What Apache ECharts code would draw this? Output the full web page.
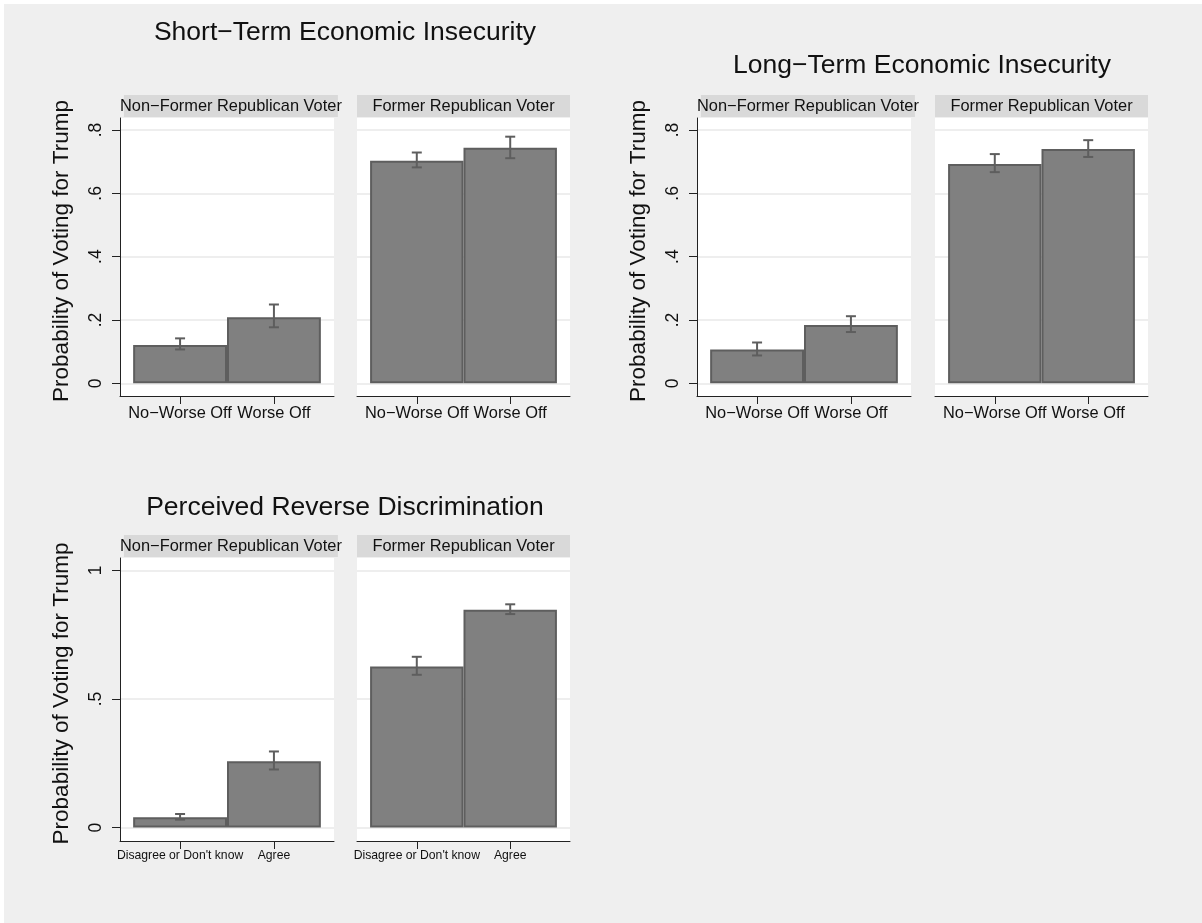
<!DOCTYPE html>
<html>
<head>
<meta charset="utf-8">
<script src="https://cdn.jsdelivr.net/npm/echarts@6/dist/echarts.min.js"></script>
<style>
  html, body { margin: 0; padding: 0; background: #ffffff; }
  #bg { position: absolute; left: 4px; top: 4px; width: 1198px; height: 919px; background: #efefef; }
  #chart { position: absolute; left: 0; top: 0; width: 1202px; height: 923px; }
</style>
</head>
<body>
<div id="bg"></div>
<div id="chart"></div>
<script>
// ---- labels ----
const econCategories = ['No\u2212Worse Off', 'Worse Off'];
const discCategories = ["Disagree or Don't know", 'Agree'];
const facetLabels = ['Non\u2212Former Republican Voter', 'Former Republican Voter'];
const panelTitles = ['Short\u2212Term Economic Insecurity', 'Long\u2212Term Economic Insecurity', 'Perceived Reverse Discrimination'];
const yAxisTitle = 'Probability of Voting for Trump';

// ---- tick values / labels ----
const econTicks = [0, 0.2, 0.4, 0.6, 0.8];
const econTickLabels = ['0', '.2', '.4', '.6', '.8'];
const discTicks = [0, 0.5, 1];
const discTickLabels = ['0', '.5', '1'];

// ---- predicted probabilities with 95% CI ----
const shortNonFormer   = [0.121, 0.209];
const shortNonFormerLo = [0.107, 0.177];
const shortNonFormerHi = [0.142, 0.249];
const shortFormer      = [0.703, 0.744];
const shortFormerLo    = [0.682, 0.711];
const shortFormerHi    = [0.729, 0.779];

const longNonFormer    = [0.107, 0.184];
const longNonFormerLo  = [0.088, 0.162];
const longNonFormerHi  = [0.129, 0.212];
const longFormer       = [0.693, 0.740];
const longFormerLo     = [0.667, 0.715];
const longFormerHi     = [0.724, 0.768];

const discNonFormer    = [0.040, 0.258];
const discNonFormerLo  = [0.031, 0.226];
const discNonFormerHi  = [0.053, 0.296];
const discFormer       = [0.626, 0.847];
const discFormerLo     = [0.594, 0.830];
const discFormerHi     = [0.664, 0.868];

// ---- styling ----
const FONT = "'Liberation Sans', Arial, Helvetica, sans-serif";
const BAR_FILL = '#808080';
const BAR_EDGE = '#5e5e5e';
const STRIP_FILL = '#d9d9d9';
const GRID_LINE = '#e9e9e9';
const AXIS_COLOR = '#222222';

// facet layout (pixel boxes of each plot region)
const facets = [
  { box: [120, 118, 214, 278], range: [-0.040, 0.838], ticks: econTicks, tickLabels: econTickLabels, cats: econCategories, catFont: 16.4, facet: 0, first: true,
    mean: shortNonFormer, lo: shortNonFormerLo, hi: shortNonFormerHi },
  { box: [357, 118, 213, 278], range: [-0.040, 0.838], ticks: econTicks, tickLabels: econTickLabels, cats: econCategories, catFont: 16.4, facet: 1, first: false,
    mean: shortFormer, lo: shortFormerLo, hi: shortFormerHi },
  { box: [697, 118, 214, 278], range: [-0.040, 0.838], ticks: econTicks, tickLabels: econTickLabels, cats: econCategories, catFont: 16.4, facet: 0, first: true,
    mean: longNonFormer, lo: longNonFormerLo, hi: longNonFormerHi },
  { box: [935, 118, 213, 278], range: [-0.040, 0.838], ticks: econTicks, tickLabels: econTickLabels, cats: econCategories, catFont: 16.4, facet: 1, first: false,
    mean: longFormer, lo: longFormerLo, hi: longFormerHi },
  { box: [120, 558, 214, 283], range: [-0.052, 1.048], ticks: discTicks, tickLabels: discTickLabels, cats: discCategories, catFont: 12.2, facet: 0, first: true,
    mean: discNonFormer, lo: discNonFormerLo, hi: discNonFormerHi },
  { box: [357, 558, 213, 283], range: [-0.052, 1.048], ticks: discTicks, tickLabels: discTickLabels, cats: discCategories, catFont: 12.2, facet: 1, first: false,
    mean: discFormer, lo: discFormerLo, hi: discFormerHi }
];

// panel titles: [centre x, top]
const titlePos = [[345, 19], [922, 52], [345, 494]];

const grid = [], xAxis = [], yAxis = [], series = [], graphic = [];

facets.forEach((f, i) => {
  const [left, top, width, height] = f.box;
  grid.push({ left, top, width, height, show: true, backgroundColor: '#ffffff', borderWidth: 0, containLabel: false });

  xAxis.push({
    gridIndex: i, type: 'value', min: 0.36, max: 2.64,
    axisLine: { show: true, onZero: false, lineStyle: { color: AXIS_COLOR, width: 1 } },
    axisTick: { show: true, customValues: [1, 2], length: 8, lineStyle: { color: AXIS_COLOR, width: 1 } },
    axisLabel: {
      customValues: [1, 2], margin: 9, color: '#111', fontFamily: FONT, fontSize: f.catFont,
      formatter: v => f.cats[Math.round(v) - 1]
    },
    splitLine: { show: false }
  });

  yAxis.push({
    gridIndex: i, type: 'value', min: f.range[0], max: f.range[1],
    name: f.first ? yAxisTitle : '', nameLocation: 'middle', nameGap: 47,
    // left padding nudges the rotated title slightly upward
    nameTextStyle: { fontFamily: FONT, fontSize: 22.5, color: '#111', padding: [0, 0, 0, 12] },
    axisLine: { show: f.first, onZero: false, lineStyle: { color: AXIS_COLOR, width: 1 } },
    axisTick: { show: f.first, customValues: f.ticks, length: 8, lineStyle: { color: AXIS_COLOR, width: 1 } },
    axisLabel: {
      show: f.first, customValues: f.ticks, rotate: 90, margin: 15,
      fontFamily: FONT, fontSize: 17.5, color: '#111',
      formatter: v => { const k = f.ticks.findIndex(t => Math.abs(t - v) < 1e-9); return k >= 0 ? f.tickLabels[k] : ''; }
    },
    splitLine: { show: true, lineStyle: { color: GRID_LINE, width: 1.5 } }
  });

  series.push({
    type: 'bar', xAxisIndex: i, yAxisIndex: i, barWidth: '100%', silent: true,
    itemStyle: { color: BAR_FILL, borderColor: BAR_EDGE, borderWidth: 2 },
    data: f.mean.map((v, k) => [k + 1, v])
  });

  series.push({
    type: 'custom', xAxisIndex: i, yAxisIndex: i, silent: true, z: 5,
    data: f.mean.map((v, k) => [k + 1, f.lo[k], f.hi[k]]),
    renderItem: (params, api) => {
      const lo = api.coord([api.value(0), api.value(1)]);
      const hi = api.coord([api.value(0), api.value(2)]);
      const cap = 5;
      const style = { stroke: BAR_EDGE, lineWidth: 2, fill: null };
      return {
        type: 'group',
        children: [
          { type: 'line', shape: { x1: lo[0], y1: lo[1], x2: hi[0], y2: hi[1] }, style },
          { type: 'line', shape: { x1: lo[0] - cap, y1: lo[1], x2: lo[0] + cap, y2: lo[1] }, style },
          { type: 'line', shape: { x1: hi[0] - cap, y1: hi[1], x2: hi[0] + cap, y2: hi[1] }, style }
        ]
      };
    }
  });

  // facet strip above each plot region
  graphic.push({
    type: 'group', left: left, top: top - 23, silent: true,
    children: [
      { type: 'rect', shape: { x: 0, y: 0, width: width, height: 22 }, style: { fill: STRIP_FILL } },
      { type: 'text', x: width / 2, y: 11, style: { text: facetLabels[f.facet], fill: '#111', font: '16.4px ' + FONT, align: 'center', verticalAlign: 'middle' } }
    ]
  });
});

const title = panelTitles.map((t, k) => ({
  text: t, left: titlePos[k][0], top: titlePos[k][1], textAlign: 'center', padding: 0,
  textStyle: { fontFamily: FONT, fontSize: 26.5, fontWeight: 'normal', color: '#111' }
}));

const chart = echarts.init(document.getElementById('chart'), null, { renderer: 'canvas' });
chart.setOption({
  backgroundColor: 'transparent',
  animation: false,
  title, grid, xAxis, yAxis, series, graphic
});
</script>
</body>
</html>
